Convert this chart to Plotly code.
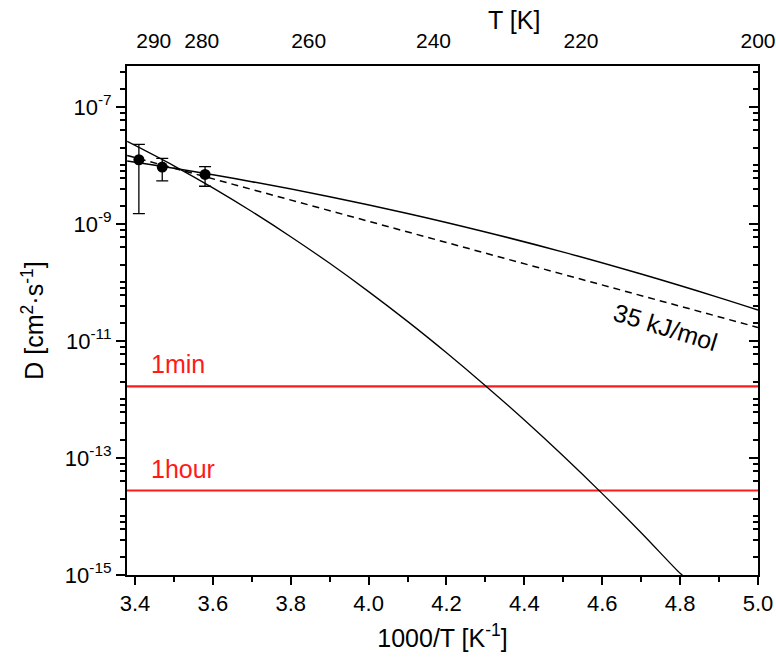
import math
import plotly.graph_objects as go

FONT = "Liberation Sans, Arial, sans-serif"

# ---------------- data ----------------
# measured diffusion coefficients vs 1000/T
inv_T_meas = [3.41, 3.47, 3.58]
D_meas = [1.25e-8, 9.35e-9, 7.0e-9]
D_err_plus = [1.04e-8, 3.85e-9, 2.5e-9]
D_err_minus = [1.10e-8, 3.9e-9, 2.6e-9]

# strongly curved model (solid, steep)
inv_T_steep = [3.38, 3.50, 3.60, 3.70, 3.80, 3.90, 4.00, 4.10, 4.20, 4.30,
               4.40, 4.50, 4.60, 4.70, 4.80, 4.806]
D_steep = [2.57e-8, 9.84e-9, 4.13e-9, 1.63e-9, 6.05e-10, 2.12e-10, 6.97e-11,
           2.16e-11, 6.28e-12, 1.72e-12, 4.45e-13, 1.08e-13, 2.46e-14,
           5.28e-15, 1.07e-15, 1.0e-15]

# weakly curved model (solid, upper)
inv_T_upper = [3.38, 3.50, 3.70, 3.90, 4.10, 4.30, 4.50, 4.70, 4.90, 5.00]
D_upper = [1.19e-8, 8.93e-9, 5.28e-9, 2.92e-9, 1.51e-9, 7.29e-10, 3.30e-10,
           1.39e-10, 5.50e-11, 3.37e-11]

# Arrhenius line, 35 kJ/mol (dashed)
inv_T_arrh = [3.38, 5.0]
D_arrh = [1.48e-8, 1.70e-11]

# diffusion thresholds for 1 min and 1 hour
D_1min = 1.67e-12
D_1hour = 2.78e-14

# axis ticks
x_ticks = [3.4, 3.6, 3.8, 4.0, 4.2, 4.4, 4.6, 4.8, 5.0]
x_minor = [3.5, 3.7, 3.9, 4.1, 4.3, 4.5, 4.7, 4.9]
y_major_exp = [-15, -13, -11, -9, -7]
T_ticks = [290, 280, 260, 240, 220, 200]

X_RANGE = [3.3795, 5.0]
Y_RANGE = [-15, math.log10(5e-7)]

y_major = [10.0 ** e for e in y_major_exp]
y_minor = []
for e in range(-15, -6):
    for m in (2, 4, 6, 8):
        v = m * 10.0 ** e
        if v <= 5e-7:
            y_minor.append(v)
    if e % 2 == 0:
        y_minor.append(10.0 ** e)

RED = "rgb(255,25,25)"

fig = go.Figure()

# threshold lines
for d in (D_1min, D_1hour):
    fig.add_trace(go.Scatter(x=X_RANGE, y=[d, d], mode="lines",
                             line=dict(color=RED, width=2.2),
                             hoverinfo="skip", showlegend=False))

fig.add_trace(go.Scatter(x=inv_T_steep, y=D_steep, mode="lines",
                         line=dict(color="black", width=1.3, shape="spline"),
                         showlegend=False))
fig.add_trace(go.Scatter(x=inv_T_upper, y=D_upper, mode="lines",
                         line=dict(color="black", width=1.5, shape="spline"),
                         showlegend=False))
fig.add_trace(go.Scatter(x=inv_T_arrh, y=D_arrh, mode="lines",
                         line=dict(color="black", width=1.5, dash="7px,5px"),
                         showlegend=False))
fig.add_trace(go.Scatter(x=inv_T_meas, y=D_meas, mode="markers",
                         marker=dict(color="black", size=11),
                         error_y=dict(type="data", symmetric=False,
                                      array=D_err_plus, arrayminus=D_err_minus,
                                      color="black", thickness=1.3, width=6),
                         showlegend=False))

# helper traces so the top and right axes get drawn
fig.add_trace(go.Scatter(x=[None], y=[None], xaxis="x2", yaxis="y",
                         showlegend=False, hoverinfo="skip"))
fig.add_trace(go.Scatter(x=[None], y=[None], xaxis="x", yaxis="y2",
                         showlegend=False, hoverinfo="skip"))

tick_font = dict(family=FONT, size=22, color="black")
top_tick_font = dict(family=FONT, size=21, color="black")
title_font = dict(family=FONT, size=25, color="black")

fig.update_layout(
    width=776, height=657,
    margin=dict(l=127, r=18, t=66, b=82),
    paper_bgcolor="white", plot_bgcolor="white",
    font=dict(family=FONT, color="black"),
    xaxis=dict(
        range=X_RANGE, showgrid=False, zeroline=False, automargin=False,
        showline=True, linecolor="black", linewidth=2, mirror=True,
        tickmode="array", tickvals=x_ticks,
        ticktext=[f"{v:.1f}" for v in x_ticks],
        ticks="outside", ticklen=8, tickwidth=1.5, tickcolor="black",
        minor=dict(tickmode="array", tickvals=x_minor, ticks="outside",
                   ticklen=5, tickwidth=1.5, tickcolor="black"),
        tickfont=tick_font, ticklabeloverflow="allow",
        title=dict(text="1000/T [K<sup>-1</sup>]", font=title_font, standoff=14),
    ),
    xaxis2=dict(
        range=[X_RANGE[0], X_RANGE[1] + 1e-9], overlaying="x", side="top",
        showgrid=False, zeroline=False, showline=False, automargin=False,
        tickmode="array", tickvals=[1000.0 / t for t in T_ticks],
        ticktext=[str(t) for t in T_ticks],
        ticks="outside", ticklen=9, tickcolor="rgba(0,0,0,0)",
        tickfont=top_tick_font, ticklabeloverflow="allow",
    ),
    yaxis=dict(
        type="log", range=Y_RANGE, showgrid=False, zeroline=False,
        automargin=False,
        showline=True, linecolor="black", linewidth=2, mirror=True,
        tickmode="array", tickvals=y_major,
        ticktext=[f"10<sup>{e}</sup>" for e in y_major_exp],
        ticks="outside", ticklen=9, tickwidth=1.5, tickcolor="black",
        minor=dict(tickmode="array", tickvals=y_minor, ticks="outside",
                   ticklen=5, tickwidth=1.5, tickcolor="black"),
        tickfont=tick_font, ticklabeloverflow="allow",
        title=dict(text="D [cm<sup>2</sup>·s<sup>-1</sup>]", font=title_font, standoff=14),
    ),
    yaxis2=dict(
        type="log", range=Y_RANGE, overlaying="y", side="right",
        showgrid=False, zeroline=False, showline=False, automargin=False,
        tickmode="array", tickvals=y_major, showticklabels=False,
        ticks="inside", ticklen=9, tickwidth=1.5, tickcolor="black",
        minor=dict(tickmode="array", tickvals=y_minor, ticks="inside",
                   ticklen=5, tickwidth=1.5, tickcolor="black"),
    ),
    annotations=[
        # top axis title
        dict(x=0.614, y=1.0, xref="paper", yref="paper", text="T [K]",
             showarrow=False, yanchor="middle", yshift=46,
             font=title_font),
        dict(x=4.762, y=-10.77, xref="x", yref="y", text="35 kJ/mol",
             showarrow=False, textangle=17,
             font=dict(family=FONT, size=25, color="black")),
        dict(x=3.436, y=math.log10(D_1min) + 0.39, xref="x", yref="y", text="1min",
             showarrow=False, xanchor="left",
             font=dict(family=FONT, size=25, color=RED)),
        dict(x=3.436, y=math.log10(D_1hour) + 0.36, xref="x", yref="y", text="1hour",
             showarrow=False, xanchor="left",
             font=dict(family=FONT, size=25, color=RED)),
    ],
)

fig.write_html("out.html")
